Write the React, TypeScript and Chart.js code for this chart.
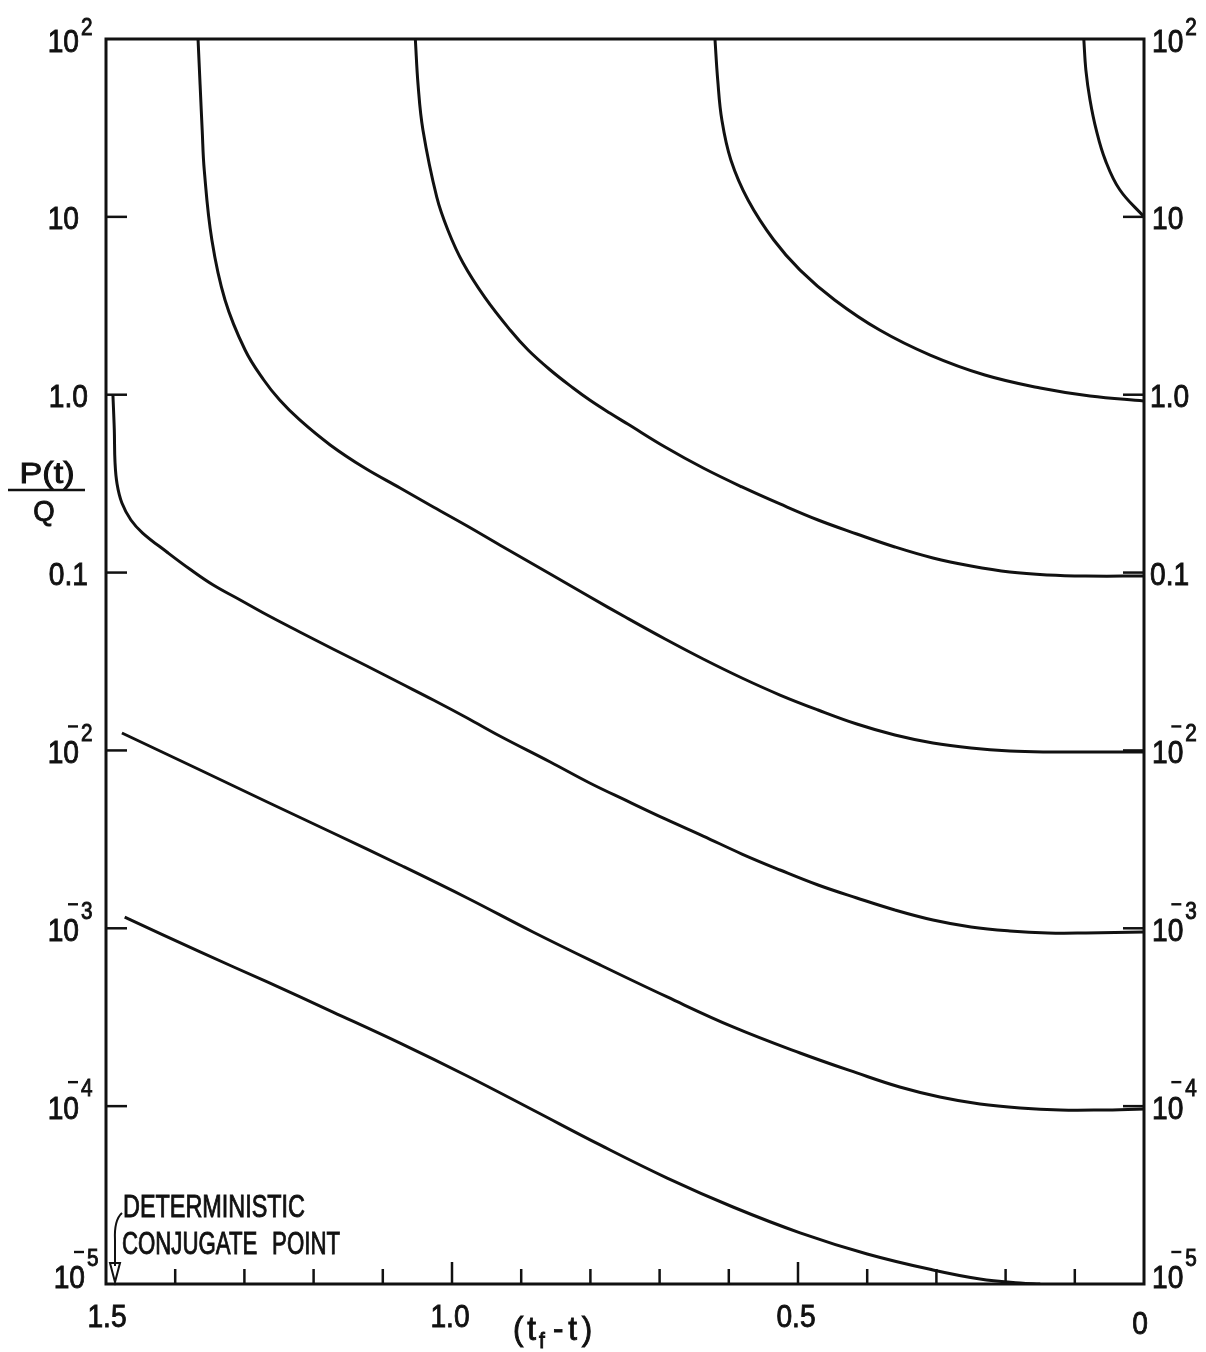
import React, { useEffect, useRef } from "react";
import { Chart, registerables } from "chart.js";

Chart.register(...registerables);

const FONT = '"Liberation Sans", "DejaVu Sans", Arial, sans-serif';
const INK = "#111111";

// ---- data: x = (t_f - t), y = P(t)/Q ----
const curveA_t = [0.087, 0.084, 0.078, 0.069, 0.056, 0.035, 0];
const curveA_p = [100, 66.9, 45.4, 30.8, 20.9, 14.2, 10];

const curveB_t = [0.620, 0.616, 0.610, 0.597, 0.572, 0.535, 0.497, 0.447, 0.382, 0.309, 0.230, 0.150, 0.078, 0];
const curveB_p = [100, 58.8, 35.0, 20.9, 12.4, 7.41, 5.02, 3.41, 2.31, 1.67, 1.29, 1.09, 0.983, 0.922];

const curveC_t = [1.053, 1.049, 1.042, 1.022, 1.006, 0.984, 0.952, 0.916, 0.890, 0.858, 0.825, 0.801, 0.772, 0.746, 0.692, 0.637, 0.581, 0.526, 0.471, 0.415, 0.360, 0.305, 0.250, 0.194, 0.139, 0.084, 0];
const curveC_p = [100, 55.1, 30.8, 12.9, 8.44, 5.50, 3.50, 2.31, 1.784, 1.377, 1.091, 0.934, 0.789, 0.684, 0.508, 0.387, 0.303, 0.243, 0.1975, 0.1648, 0.1393, 0.1208, 0.1089, 0.1007, 0.0969, 0.0956, 0.0956];

const curveD_t = [1.367, 1.364, 1.361, 1.358, 1.347, 1.328, 1.299, 1.272, 1.249, 1.220, 1.176, 1.126, 1.075, 1.027, 0.978, 0.931, 0.858, 0.803, 0.747, 0.692, 0.637, 0.581, 0.526, 0.471, 0.415, 0.360, 0.305, 0.250, 0.194, 0.139, 0.084, 0];
const curveD_p = [100, 55.1, 30.8, 18.3, 7.41, 3.41, 1.784, 1.21, 0.934, 0.721, 0.522, 0.387, 0.299, 0.2337, 0.1827, 0.1429, 0.0982, 0.0738, 0.0555, 0.0423, 0.03266, 0.02554, 0.02049, 0.01688, 0.01408, 0.01221, 0.01101, 0.01032, 0.00993, 0.0098, 0.0098, 0.0098];

const curveE_t = [1.490, 1.488, 1.487, 1.484, 1.477, 1.464, 1.447, 1.412, 1.379, 1.345, 1.306, 1.267, 1.220, 1.172, 1.123, 1.075, 1.027, 0.978, 0.931, 0.858, 0.801, 0.747, 0.692, 0.637, 0.581, 0.526, 0.471, 0.415, 0.360, 0.305, 0.250, 0.194, 0.139, 0.084, 0];
const curveE_p = [1.0, 0.633, 0.4185, 0.3148, 0.2461, 0.1975, 0.1669, 0.1305, 0.1047, 0.0851, 0.0701, 0.0577, 0.04634, 0.03718, 0.02984, 0.02394, 0.01921, 0.01522, 0.01206, 0.00861, 0.00656, 0.0052, 0.00412, 0.0033, 0.002616, 0.002127, 0.001751, 0.00148, 0.001267, 0.001113, 0.001017, 0.000966, 0.000941, 0.000941, 0.000953];

const curveF_t = [1.477, 1.364, 1.267, 1.172, 1.075, 0.978, 0.883, 0.786, 0.689, 0.594, 0.497, 0.415, 0.353, 0.295, 0.237, 0.179, 0.121, 0.064, 0];
const curveF_p = [0.01253, 0.00776, 0.00513, 0.003433, 0.002269, 0.00148, 0.000953, 0.000622, 0.000411, 0.000279, 0.000199, 0.0001537, 0.0001281, 0.0001126, 0.0001028, 0.0000976, 0.0000951, 0.0000951, 0.0000964];

const curveG_t = [1.473, 1.364, 1.267, 1.172, 1.075, 0.978, 0.883, 0.786, 0.689, 0.594, 0.497, 0.400, 0.305, 0.237, 0.179, 0.150];
const curveG_p = [0.001157, 0.000736, 0.000499, 0.000338, 0.000226, 0.0001477, 0.0000951, 0.0000605, 0.0000394, 0.0000271, 0.0000194, 0.00001475, 0.00001199, 0.00001067, 0.00001013, 0.00001];

const curves = [
  [curveA_t, curveA_p],
  [curveB_t, curveB_p],
  [curveC_t, curveC_p],
  [curveD_t, curveD_p],
  [curveE_t, curveE_p],
  [curveF_t, curveF_p],
  [curveG_t, curveG_p],
];

// ---- axis ticks & text ----
const yTickValues = [100, 10, 1, 0.1, 0.01, 0.001, 0.0001, 0.00001];
const yTickBase = ["10", "10", "1.0", "0.1", "10", "10", "10", "10"];
const yTickExp = ["2", "", "", "", "-2", "-3", "-4", "-5"];
const xMajorValues = [1.5, 1.0, 0.5, 0];
const xMajorLabels = ["1.5", "1.0", "0.5", "0"];
const xMinorValues = [1.4, 1.3, 1.2, 1.1, 0.9, 0.8, 0.7, 0.6, 0.4, 0.3, 0.2, 0.1];
const yTitleTop = "P(t)";
const yTitleBottom = "Q";
const noteLine1 = "DETERMINISTIC";
const noteLine2 = "CONJUGATE POINT";

function drawT(ctx: CanvasRenderingContext2D, s: string, x: number, yc: number, size: number, align: string, sx: number, targetW?: number) {
  ctx.font = `${size}px ${FONT}`;
  const raw = ctx.measureText(s).width;
  const k = targetW ? targetW / raw : sx;
  const w = raw * k;
  const lx = align === "left" ? x : align === "right" ? x - w : x - w / 2;
  ctx.save();
  ctx.translate(lx, yc + 0.358 * size);
  ctx.scale(k, 1);
  ctx.textAlign = "left";
  ctx.textBaseline = "alphabetic";
  ctx.fillText(s, 0, 0);
  ctx.lineWidth = 0.9;
  ctx.strokeText(s, 0, 0);
  ctx.restore();
  return w;
}

function seg(ctx: CanvasRenderingContext2D, x1: number, y1: number, x2: number, y2: number) {
  ctx.beginPath();
  ctx.moveTo(x1, y1);
  ctx.lineTo(x2, y2);
  ctx.stroke();
}

const overlay = {
  id: "overlay",
  afterDraw(chart: any) {
    const ctx: CanvasRenderingContext2D = chart.ctx;
    const { left, right, top, bottom } = chart.chartArea;
    const xs = chart.scales.x;
    const ys = chart.scales.y;
    ctx.save();
    ctx.strokeStyle = INK;
    ctx.fillStyle = INK;
    ctx.lineWidth = 3;
    ctx.strokeRect(left, top, right - left, bottom - top);

    // y ticks (inward, both sides)
    ctx.lineWidth = 2.5;
    yTickValues.forEach((v, i) => {
      if (i === 0 || i === yTickValues.length - 1) return;
      const y = ys.getPixelForValue(v);
      seg(ctx, left, y, left + 21, y);
      seg(ctx, right - 21, y, right, y);
    });
    // x ticks (inward)
    xMinorValues.forEach((v) => {
      const x = xs.getPixelForValue(v);
      seg(ctx, x, bottom, x, bottom - 15);
    });
    xMajorValues.forEach((v) => {
      if (v === 1.5 || v === 0) return;
      const x = xs.getPixelForValue(v);
      seg(ctx, x, bottom, x, bottom - 22);
    });

    // y tick labels
    const S = 32, SX = 0.88, ES = 23;
    yTickValues.forEach((v, i) => {
      const y = ys.getPixelForValue(v);
      const last = i === yTickValues.length - 1;
      const yc = last ? y - 7 : i === 0 ? y + 2 : y + 1;
      const base = yTickBase[i];
      const exp = yTickExp[i];
      if (!exp) {
        if (base === "10") {
          drawT(ctx, base, 79, yc, S, "right", SX);
          drawT(ctx, base, 1152, yc, S, "left", SX);
        } else {
          drawT(ctx, base, 88, yc, S, "right", SX);
          drawT(ctx, base, 1150, yc, S, "left", SX);
        }
        return;
      }
      const neg = exp.startsWith("-");
      const digits = neg ? exp.slice(1) : exp;
      const ey = neg ? yc - 19 : yc - 14;
      // left
      const lEnd = last ? 85 : 79;
      drawT(ctx, base, lEnd, yc, S, "right", SX);
      drawT(ctx, digits, lEnd + 2, ey, ES, "left", 0.9);
      ctx.lineWidth = 2.4;
      if (neg) seg(ctx, lEnd - 11, yc - 25, lEnd - 1, yc - 25);
      // right
      const w = drawT(ctx, base, 1152, yc, S, "left", SX);
      drawT(ctx, digits, 1152 + w + 2, ey, ES, "left", 0.9);
      if (neg) seg(ctx, 1152 + w - 12, yc - 25, 1152 + w - 2, yc - 25);
    });

    // x tick labels
    xMajorValues.forEach((v, i) => {
      const x = xs.getPixelForValue(v);
      const dx = v === 0 ? -4 : v === 1.5 ? 1 : -2;
      drawT(ctx, xMajorLabels[i], x + dx, v === 0 ? 1323 : 1316, S, "center", SX);
    });

    // x axis title (t_f - t)
    (ctx as any).letterSpacing = "4px";
    drawT(ctx, "(t", 513, 1328, 33, "left", 0.95);
    (ctx as any).letterSpacing = "0px";
    drawT(ctx, "f", 539, 1340, 22, "left", 0.95);
    (ctx as any).letterSpacing = "5px";
    drawT(ctx, "-t)", 553, 1328, 33, "left", 0.95);
    (ctx as any).letterSpacing = "0px";

    // y axis title P(t)/Q
    drawT(ctx, yTitleTop, 47, 473, 29, "center", 1, 55);
    ctx.lineWidth = 2.5;
    seg(ctx, 8, 490, 85, 490);
    drawT(ctx, yTitleBottom, 44, 511, 29, "center", 0.95);

    // annotation
    drawT(ctx, noteLine1, 123, 1206, 31, "left", 1, 182);
    (ctx as any).wordSpacing = "12px";
    drawT(ctx, noteLine2, 122, 1243, 31, "left", 1, 218);
    (ctx as any).wordSpacing = "0px";
    ctx.lineWidth = 2;
    ctx.beginPath();
    ctx.moveTo(122, 1213);
    ctx.quadraticCurveTo(114, 1220, 115, 1240);
    ctx.lineTo(115, 1266);
    ctx.stroke();
    ctx.beginPath();
    ctx.moveTo(110, 1263);
    ctx.lineTo(120, 1263);
    ctx.lineTo(115, 1282);
    ctx.closePath();
    ctx.stroke();

    ctx.restore();
  },
};

export default function App() {
  const ref = useRef<HTMLCanvasElement>(null);
  useEffect(() => {
    if (!ref.current) return;
    const datasets = curves.map(([ts, ps], i) => ({
      label: `curve ${i + 1}`,
      data: ts.map((t, j) => ({ x: t, y: ps[j] })),
      borderColor: INK,
      borderWidth: 3,
      pointRadius: 0,
      fill: false,
      tension: 0.4,
    }));
    const chart = new Chart(ref.current, {
      type: "line",
      data: { datasets },
      options: {
        responsive: false,
        animation: false,
        devicePixelRatio: 1,
        layout: { padding: { left: 106, top: 39, right: 62, bottom: 68 } },
        plugins: { legend: { display: false }, tooltip: { enabled: false } },
        scales: {
          x: { type: "linear", reverse: true, min: 0, max: 1.5, display: false },
          y: { type: "logarithmic", min: 0.00001, max: 100, display: false },
        },
      },
      plugins: [overlay],
    });
    return () => chart.destroy();
  }, []);
  return (
    <div style={{ position: "absolute", left: 0, top: 0, width: 1206, height: 1352, background: "#fff" }}>
      <canvas ref={ref} width={1206} height={1352} style={{ display: "block", width: 1206, height: 1352 }} />
    </div>
  );
}
